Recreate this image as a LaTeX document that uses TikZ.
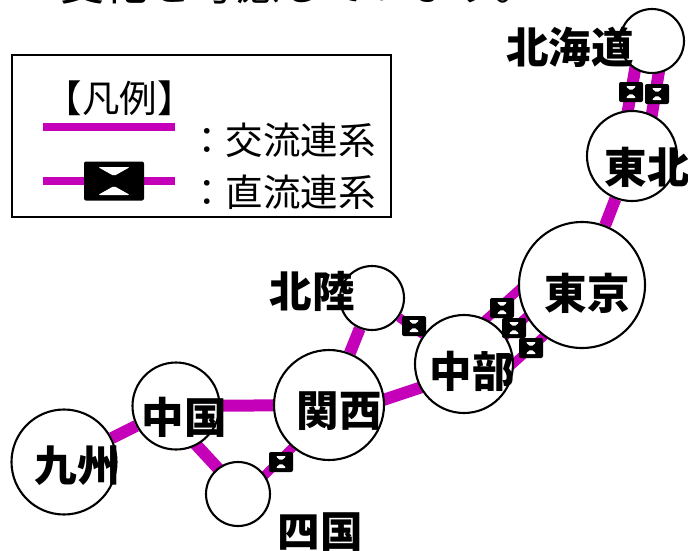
\documentclass[tikz,border=0pt]{standalone}
\usepackage{fontspec}
\setmainfont{Noto Sans CJK JP}
\usetikzlibrary{backgrounds}
\definecolor{linkcol}{RGB}{196,0,184}
\newcommand{\dctris}[3]{%
	\fill[white] ([shift={(-#1,-#3)}]path picture bounding box.center) -- ++(2*#1,0) -- ++(-#1,#2) -- cycle;
	\fill[white] ([shift={(-#1,#3)}]path picture bounding box.center) -- ++(2*#1,0) -- ++(-#1,-#2) -- cycle;}
\tikzset{
	area/.style={circle,draw,line width=2.1pt,fill=white,inner sep=0pt},
	ac/.style={line width=12pt,linkcol},
	acthin/.style={line width=9pt,linkcol},
	aclegend/.style={line width=7.5pt,linkcol},
	areaname/.style={font=\bfseries\fontsize{42.5pt}{42.5pt}\selectfont,inner sep=0pt},
	legtext/.style={font=\fontsize{37.5pt}{37.5pt}\selectfont,inner sep=0pt},
	dc/.style={fill=black,rounded corners=2pt,minimum width=24pt,minimum height=20pt,inner sep=0pt,
		path picture={\dctris{5.5}{5}{6}}},
	dcbig/.style={fill=black,rounded corners=2pt,minimum width=60pt,minimum height=39pt,inner sep=0pt,
		path picture={\dctris{16}{9}{14}}},
}
\begin{document}
\begin{tikzpicture}[x=1pt,y=-1pt]
	\useasboundingbox (0,0) rectangle (688,550);
	\begin{scope}
		\clip (0,0) rectangle (688,550);
		\node [legtext,font=\fontsize{44pt}{44pt}\selectfont,anchor=base west] (toptext) at (60,0) {変化を考慮しています。};
	\end{scope}

	% legend
	\node [draw,line width=2pt,minimum width=379pt,minimum height=162pt,inner sep=0pt] (legend) at (201.5,136) {};
	\node [legtext,anchor=west] (legtitle) at (44.5,98) {【凡例】};
	\coordinate (aca) at (43,127);
	\coordinate (acb) at (175,127);
	\coordinate (dca) at (43,181);
	\coordinate (dcb) at (175,181);
	\draw[aclegend] (aca) -- (acb);
	\draw[aclegend] (dca) -- (dcb);
	\node [dcbig] (dcleg) at (114,181) {};
	\node [legtext,anchor=west] (aclabel) at (188,140) {：交流連系};
	\node [legtext,anchor=west] (dclabel) at (188,192) {：直流連系};

	% areas
	\node [area,minimum size=126pt] (tokyo) at (582,285) {};
	\node [area,minimum size=64pt] (hokkaido) at (652,41) {};
	\node [area,minimum size=90pt] (tohoku) at (632,156) {};
	\node [area,minimum size=64pt] (hokuriku) at (372,298) {};
	\node [area,minimum size=98pt] (chubu) at (464,364) {};
	\node [area,minimum size=110pt] (kansai) at (329,405) {};
	\node [area,minimum size=87pt] (chugoku) at (176,406) {};
	\node [area,minimum size=64pt] (shikoku) at (238,494) {};
	\node [area,minimum size=105pt] (kyushu) at (64,462) {};

	% links
	\begin{scope}[on background layer]
		\draw[ac] ([shift={(-12,0)}]hokkaido.center) -- ([shift={(-12,0)}]tohoku.center);
		\draw[ac] ([shift={(12,0)}]hokkaido.center) -- ([shift={(13,0)}]tohoku.center);
		\draw[ac] (tohoku) -- (tokyo);
		\draw[acthin] ([shift={(0,-25)}]chubu.center) -- ([shift={(0,-52)}]tokyo.center);
		\draw[acthin] ([shift={(0,9)}]chubu.center) -- ([shift={(0,-18)}]tokyo.center);
		\draw[acthin] ([shift={(0,44)}]chubu.center) -- ([shift={(0,17)}]tokyo.center);
		\draw[acthin] (hokuriku) -- (chubu);
		\draw[ac] (hokuriku) -- (kansai);
		\draw[ac] ([shift={(0,13)}]kansai.center) -- ([shift={(0,9)}]chubu.center);
		\draw[ac] (chugoku) -- (kansai);
		\draw[ac] (kyushu) -- (chugoku);
		\draw[ac] ([shift={(0,17)}]chugoku.center) -- ([shift={(0,-4)}]shikoku.center);
		\draw[acthin] ([shift={(0,8)}]shikoku.center) -- ([shift={(0,6)}]kansai.center);
	\end{scope}

	% DC converters
	\node [dc] (dcnorthl) at (631,92) {};
	\node [dc] (dcnorthr) at (657,94) {};
	\node [dc] (dceasta) at (502,308) {};
	\node [dc] (dceastb) at (514,328) {};
	\node [dc] (dceastc) at (531,348) {};
	\node [dc] (dchoku) at (414,326) {};
	\node [dc] (dcshi) at (281,462) {};

	% names
	\node [areaname] (lbhokkaido) at (570,47) {北海道};
	\node [areaname] (lbtohoku) at (647,167) {東北};
	\node [areaname] (lbtokyo) at (587,293) {東京};
	\node [areaname] (lbhokuriku) at (312,291) {北陸};
	\node [areaname] (lbchubu) at (472,371) {中部};
	\node [areaname] (lbkansai) at (339,411) {関西};
	\node [areaname] (lbchugoku) at (184,417) {中国};
	\node [areaname] (lbkyushu) at (77,466) {九州};
	\node [areaname] (lbshikoku) at (320,532) {四国};
\end{tikzpicture}
\end{document}
